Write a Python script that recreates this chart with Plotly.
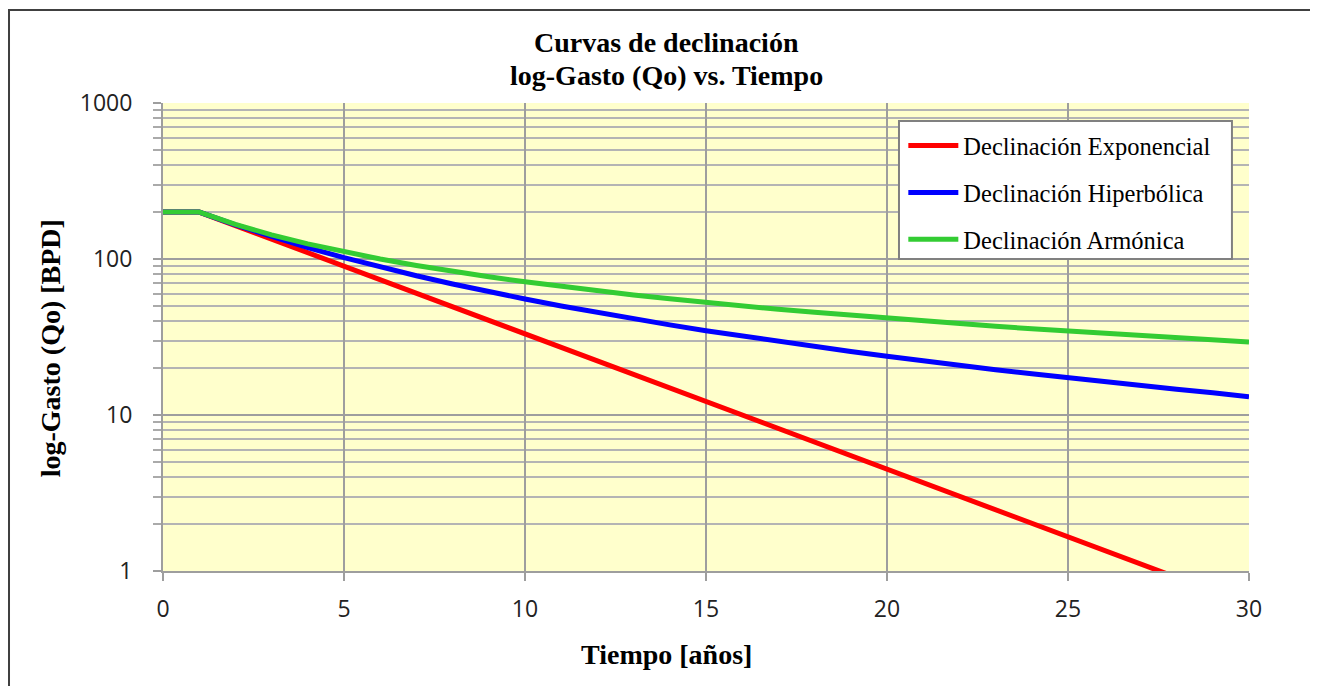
import plotly.graph_objects as go

# años and gasto (flat 200 BPD during the first year)
anios = list(range(0, 31))
q_exponencial = [200, 200, 163.7, 134.1, 109.8, 89.9, 73.6, 60.2, 49.3, 40.4, 33.1,
                 27.1, 22.2, 18.1, 14.9, 12.2, 9.96, 8.15, 6.67, 5.46, 4.47,
                 3.66, 3.0, 2.46, 2.01, 1.65, 1.35, 1.1, 0.9, 0.74, 0.61]
q_hiperbolica = [200, 200, 165.3, 138.9, 118.3, 102.0, 88.9, 78.1, 69.2, 61.7, 55.4,
                 50.0, 45.4, 41.3, 37.8, 34.7, 32.0, 29.6, 27.4, 25.5, 23.8,
                 22.2, 20.8, 19.5, 18.4, 17.3, 16.3, 15.4, 14.6, 13.9, 13.1]
q_armonica = [200, 200, 166.7, 142.9, 125.0, 111.1, 100.0, 90.9, 83.3, 76.9, 71.4,
              66.7, 62.5, 58.8, 55.6, 52.6, 50.0, 47.6, 45.5, 43.5, 41.7,
              40.0, 38.5, 37.0, 35.7, 34.5, 33.3, 32.3, 31.3, 30.3, 29.4]

series = [
    ("Declinación Exponencial", q_exponencial, "#FF0000"),
    ("Declinación Hiperbólica", q_hiperbolica, "#0000FF"),
    ("Declinación Armónica", q_armonica, "#33CC33"),
]

fig = go.Figure()
for nombre, q, color in series:
    fig.add_trace(go.Scatter(x=anios, y=q, mode="lines", name=nombre,
                             legendgroup=nombre,
                             line=dict(color=color, width=5)))

serif = "Liberation Serif, Times New Roman, serif"
sans = "Open Sans, sans-serif"
grid = "#9E9E9E"
title_font = dict(family=serif, size=28, color="black")

# the page body adds 8px around the figure, so the figure is 8px smaller
fig.update_layout(
    width=1310, height=678,
    margin=dict(l=155, r=69, t=95, b=115),
    paper_bgcolor="white",
    plot_bgcolor="#FFFFCC",
    showlegend=True,
    legend=dict(x=0.6817, y=0.957, xanchor="left", yanchor="top",
                bgcolor="rgba(0,0,0,0)", borderwidth=0,
                font=dict(family=serif, size=24.5, color="black"),
                itemwidth=50, tracegroupgap=12, traceorder="grouped"),
    xaxis=dict(range=[0, 30], dtick=5, showgrid=True, gridcolor=grid, gridwidth=2,
               showline=True, linecolor=grid, linewidth=2,
               ticks="outside", ticklen=8, tickwidth=2, tickcolor=grid,
               ticklabelstandoff=8,
               tickfont=dict(family=sans, size=23, color="#222222"),
               zeroline=False),
    yaxis=dict(type="log", range=[0, 3], dtick=1, showgrid=True, gridcolor=grid,
               gridwidth=2, showline=True, linecolor=grid, linewidth=2,
               ticks="outside", ticklen=8, tickwidth=2, tickcolor=grid,
               ticklabelstandoff=16,
               tickfont=dict(family=sans, size=23, color="#222222"),
               minor=dict(dtick="D1", ticks="outside", ticklen=8, tickwidth=2,
                          tickcolor="#AAAAAA", showgrid=True,
                          gridcolor="#B4B4B4", gridwidth=1.5),
               zeroline=False),
    annotations=[
        dict(text="<b>Curvas de declinación</b>", xref="paper", yref="paper",
             x=0.464, y=1.1303, xanchor="center", yanchor="middle",
             showarrow=False, font=title_font),
        dict(text="<b>log-Gasto (Qo) vs. Tiempo</b>", xref="paper", yref="paper",
             x=0.464, y=1.0598, xanchor="center", yanchor="middle",
             showarrow=False, font=title_font),
        dict(text="<b>Tiempo [años]</b>", xref="paper", yref="paper",
             x=0.464, y=-0.179, xanchor="center", yanchor="middle",
             showarrow=False, font=title_font),
        dict(text="<b>log-Gasto (Qo) [BPD]</b>", xref="paper", yref="paper",
             x=-0.104, y=0.476, xanchor="center", yanchor="middle", textangle=-90,
             showarrow=False, font=title_font),
    ],
    shapes=[
        # outer frame of the picture
        dict(type="rect", xref="paper", yref="paper",
             x0=-0.1418, x1=1.2, y0=-0.4, y1=1.1987,
             line=dict(color="#404040", width=2), fillcolor="rgba(0,0,0,0)",
             layer="below"),
        # legend box
        dict(type="rect", xref="paper", yref="paper",
             x0=0.6777, x1=0.9843, y0=0.6667, y1=0.9615,
             line=dict(color="#808080", width=2), fillcolor="white",
             layer="above"),
    ],
)

fig.write_html("out.html")
